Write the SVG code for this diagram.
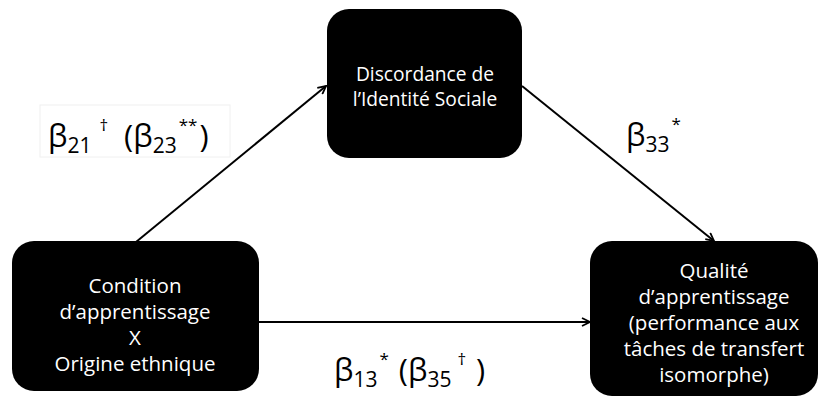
<svg xmlns="http://www.w3.org/2000/svg" width="827" height="403" viewBox="0 0 827 403">
<defs>
<marker id="ah" viewBox="0 0 10 10" refX="9" refY="5" markerWidth="10" markerHeight="10" markerUnits="userSpaceOnUse" orient="auto">
<path d="M1,1 L9,5 L1,9" fill="none" stroke="#000" stroke-width="1.8"/>
</marker>
<style>
.box{fill:#000}
.nt{fill:#fff;font-family:"Open Sans","Noto Sans",sans-serif;font-size:20.5px;text-anchor:middle}
.nt2{fill:#fff;font-family:"Open Sans","Noto Sans",sans-serif;font-size:19.2px;text-anchor:middle}
.lb{fill:#000;font-family:"Open Sans","Noto Sans",sans-serif;font-size:31px}
.sub{font-size:21px}
.sup{font-size:17px}
.cn{stroke:#000;stroke-width:2;fill:none;marker-end:url(#ah)}
</style>
</defs>
<rect x="0" y="0" width="827" height="403" fill="#fff"/>
<g id="connectors">
<line class="cn" x1="136" y1="242" x2="326" y2="86"/>
<line class="cn" x1="522" y1="86" x2="714" y2="241"/>
<line class="cn" x1="258" y1="322" x2="590" y2="322"/>
</g>
<g id="node-discordance">
<rect class="box" x="327" y="9" width="195" height="149" rx="22"/>
<text class="nt2" x="425" y="81">Discordance de</text>
<text class="nt2" x="425" y="106">l’Identité Sociale</text>
</g>
<g id="node-condition">
<rect class="box" x="12" y="241" width="247" height="150" rx="22"/>
<text class="nt" x="135" y="293">Condition</text>
<text class="nt" x="135" y="319">d’apprentissage</text>
<text class="nt" x="135" y="345">X</text>
<text class="nt" x="135" y="371">Origine ethnique</text>
</g>
<g id="node-qualite">
<rect class="box" x="590" y="241" width="228" height="155" rx="22"/>
<text class="nt" x="714" y="278">Qualité</text>
<text class="nt" x="714" y="304">d’apprentissage</text>
<text class="nt" x="714" y="330">(performance aux</text>
<text class="nt" x="714" y="356">tâches de transfert</text>
<text class="nt" x="714" y="382">isomorphe)</text>
</g>
<g id="labels">
<rect x="40" y="105" width="190" height="52" fill="none" stroke="#f0f0f0" stroke-width="1"/>
<text class="lb" x="48" y="147">β<tspan class="sub" dy="6">21</tspan><tspan class="sup" dy="-22" dx="8">†</tspan><tspan dy="16" dx="16">(β</tspan><tspan class="sub" dy="6">23</tspan><tspan class="sup" dy="-22" dx="2">**</tspan><tspan dy="16" dx="2">)</tspan></text>
<text class="lb" x="626" y="146">β<tspan class="sub" dy="6">33</tspan><tspan class="sup" dy="-22" dx="2">*</tspan></text>
<text class="lb" x="334" y="381">β<tspan class="sub" dy="6">13</tspan><tspan class="sup" dy="-22" dx="2">*</tspan><tspan dy="16" dx="10">(β</tspan><tspan class="sub" dy="6">35</tspan><tspan class="sup" dy="-22" dx="6">†</tspan><tspan dy="16" dx="10">)</tspan></text>
</g>
</svg>
